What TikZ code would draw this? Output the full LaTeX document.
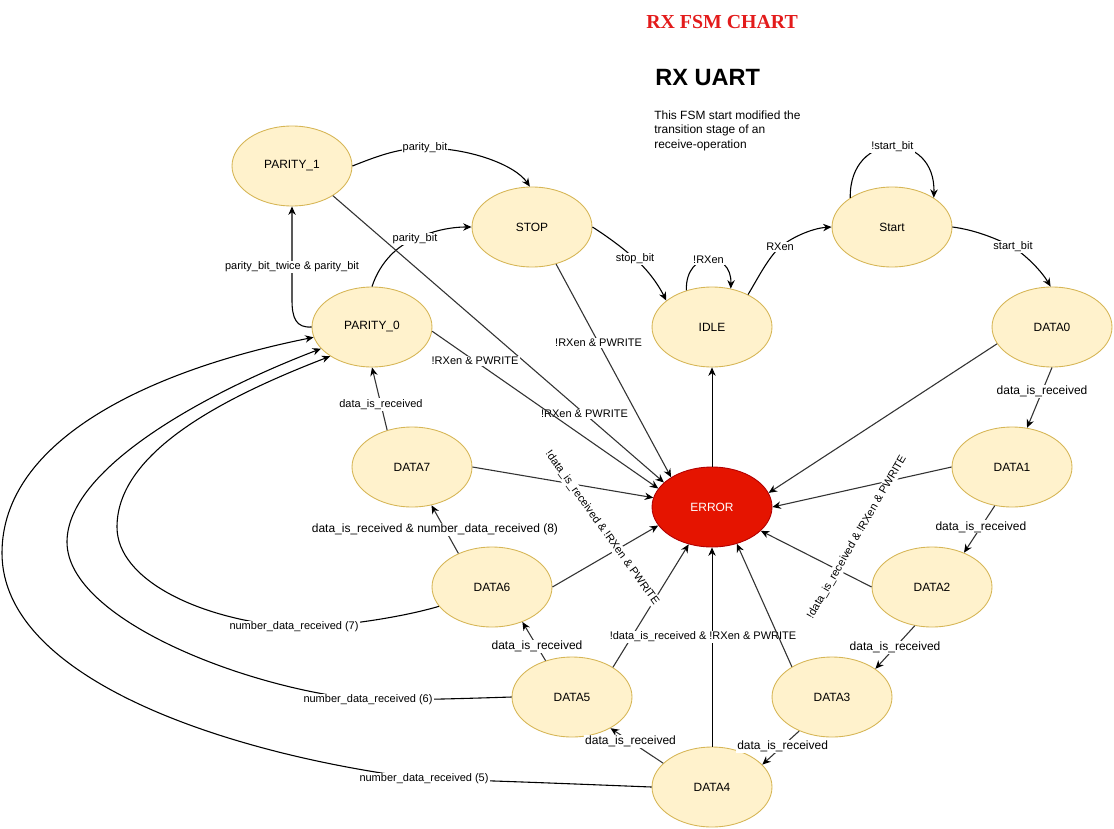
\documentclass[tikz,border=0pt]{standalone}
\usepackage{fontspec}
\setmainfont{Liberation Sans}
\newfontfamily\titlefont{Liberation Serif}
\usetikzlibrary{arrows.meta,shapes.geometric}

\definecolor{stfill}{HTML}{FFF2CC}
\definecolor{stdraw}{HTML}{D6B656}
\definecolor{errfill}{HTML}{E51400}
\definecolor{errdraw}{HTML}{B20000}
\definecolor{titlered}{HTML}{E31B1B}
\definecolor{edgegray}{HTML}{333333}

\tikzset{
  state/.style={ellipse,draw=stdraw,fill=stfill,minimum width=2.4cm,minimum height=1.6cm,inner sep=0pt,line width=0.5pt,font=\fontsize{6.8}{8}\selectfont},
  errstate/.style={state,draw=errdraw,fill=errfill,text=white},
  arr/.style={-{Stealth[length=4.8pt,width=4.2pt,color=black]},line width=0.62pt},
  grayarr/.style={arr,draw=edgegray},
  vertarr/.style={arr,line width=0.45pt},
  lbl/.style={fill=white,inner sep=0.6pt,font=\fontsize{6.26}{7.5}\selectfont},
  biglbl/.style={lbl,font=\fontsize{6.83}{8}\selectfont},
}

\begin{document}
\begin{tikzpicture}[x=0.02cm,y=-0.02cm]
\useasboundingbox (0,0) rectangle (1114,828);

% titles
\node[text=titlered,font=\titlefont\bfseries\fontsize{11.3}{13}\selectfont] (title) at (722,22) {RX FSM CHART};
\node[anchor=base west,inner sep=0pt,font=\bfseries\fontsize{13.4}{15}\selectfont] (head) at (655,86) {RX UART};
\node[anchor=north west,inner sep=0pt,align=left,font=\fontsize{6.8}{8.2}\selectfont] (desc) at (654,110.5)
  {This FSM start modified the\\transition stage of an\\receive-operation};

% states
\node[state] (par1) at (292,166) {PARITY\_1};
\node[state] (stop) at (532,227) {STOP};
\node[state] (start) at (892,227) {Start};
\node[state] (par0) at (372,327) {PARITY\_0};
\node[state] (idle) at (712,327) {IDLE};
\node[state] (d0) at (1052,327) {DATA0};
\node[state] (d7) at (412,467) {DATA7};
\node[errstate] (err) at (712,507) {ERROR};
\node[state] (d1) at (1012,467) {DATA1};
\node[state] (d6) at (492,587) {DATA6};
\node[state] (d2) at (932,587) {DATA2};
\node[state] (d5) at (572,697) {DATA5};
\node[state] (d3) at (832,697) {DATA3};
\node[state] (d4) at (712,787) {DATA4};

% upper part
\draw[arr] (par1.east) .. controls (380,155) and (400,148) .. (425,148) node[lbl] {parity\_bit}
  .. controls (470,148) and (515,165) .. (stop.93);
\draw[arr] (par0.north) .. controls (380,262) and (398,245) .. (415,239) node[lbl] {parity\_bit}
  .. controls (432,231) and (450,227) .. (stop.west);
\draw[arr] (par0.west) .. controls (296,328) and (292,318) .. (292,300) -- (292,267) node[lbl] {parity\_bit\_twice \& parity\_bit}
  -- (par1.south);
\draw[arr] (stop.east) .. controls (605,235) and (622,247) .. (635,259) node[lbl] {stop\_bit}
  .. controls (645,267) and (657,282) .. (idle.150);
\draw[arr] (idle.125) .. controls (685,250) and (732,250) .. (idle.64) node[lbl,pos=0.5] {!RXen};
\draw[arr] (idle.42) .. controls (758,278) and (768,258) .. (780,247) node[lbl] {RXen}
  .. controls (795,235) and (815,228) .. (start.west);
\draw[arr] (start.145) .. controls (849,130) and (936,130) .. (start.35) node[lbl,pos=0.5] {!start\_bit};
\draw[arr] (start.east) .. controls (975,230) and (995,238) .. (1013,247) node[lbl] {start\_bit}
  .. controls (1028,257) and (1042,272) .. (d0.92);

% data chain
\draw[grayarr] (d0.south) -- (d1.69) node[biglbl,pos=0.4] {data\_is\_received};
\draw[grayarr] (d1.246) -- (d2.47) node[biglbl,pos=0.45] {data\_is\_received};
\draw[grayarr] (d2.246) -- (d3.33) node[biglbl,pos=0.5] {data\_is\_received};
\draw[grayarr] (d3.226) -- (d4.24) node[biglbl,pos=0.45] {data\_is\_received};
\draw[grayarr] (d4.154) -- (d5.321) node[biglbl,pos=0.62] {data\_is\_received};
\draw[grayarr] (d5.126) -- (d6.311) node[biglbl,pos=0.37] {data\_is\_received};
\draw[grayarr] (d6.135) -- (d7.297) node[biglbl,pos=0.5,xshift=-0.2cm] {data\_is\_received \& number\_data\_received (8)};
\draw[grayarr] (d7.124) -- (par0.south) node[lbl,pos=0.41] {data\_is\_received};

% back to PARITY_0
\draw[arr] (d4.west) .. controls (600,785) and (480,780) .. (424,779) node[lbl] {number\_data\_received (5)}
  .. controls (230,755) and (2,680) .. (2,553) .. controls (2,440) and (150,370) .. (par0.190);
\draw[arr] (d5.west) .. controls (480,698) and (420,700) .. (368,700) node[lbl] {number\_data\_received (6)}
  .. controls (250,690) and (67,620) .. (67,542) .. controls (67,470) and (200,395) .. (par0.203);
\draw[arr] (d6.200) .. controls (400,618) and (330,628) .. (294,627) node[lbl] {number\_data\_received (7)}
  .. controls (200,620) and (117,580) .. (117,527) .. controls (117,450) and (230,395) .. (par0.215);

% error transitions
\draw[grayarr] (par1.324) -- (err.153) node[lbl,pos=0.76] {!RXen \& PWRITE};
\draw[grayarr] (par0.356) -- (err.161) node[lbl,pos=0.19] {!RXen \& PWRITE};
\draw[grayarr] (stop.303) -- (err.144) node[lbl,pos=0.37] {!RXen \& PWRITE};
\draw[grayarr] (d7.east) -- (err.171);
\draw[grayarr] (d6.east) -- (err.199);
\draw[grayarr] (d5.36) -- (err.238);
\draw[vertarr] (d4.north) -- (err.south) node[lbl,pos=0.55,xshift=-0.18cm] {!data\_is\_received \& !RXen \& PWRITE};
\draw[grayarr] (d3.143) -- (err.304);
\draw[grayarr] (d2.west) -- (err.334);
\draw[grayarr] (d1.west) -- (err.0);
\draw[grayarr] (d0.197) -- (err.14);
\draw[vertarr] (err.north) -- (idle.south);

\node[lbl,rotate=-54.3] (errlbl1) at (602,528) {!data\_is\_received \& !RXen \& PWRITE};
\node[lbl,rotate=59.8] (errlbl2) at (857,537) {!data\_is\_received \& !RXen \& PWRITE};

\end{tikzpicture}
\end{document}
